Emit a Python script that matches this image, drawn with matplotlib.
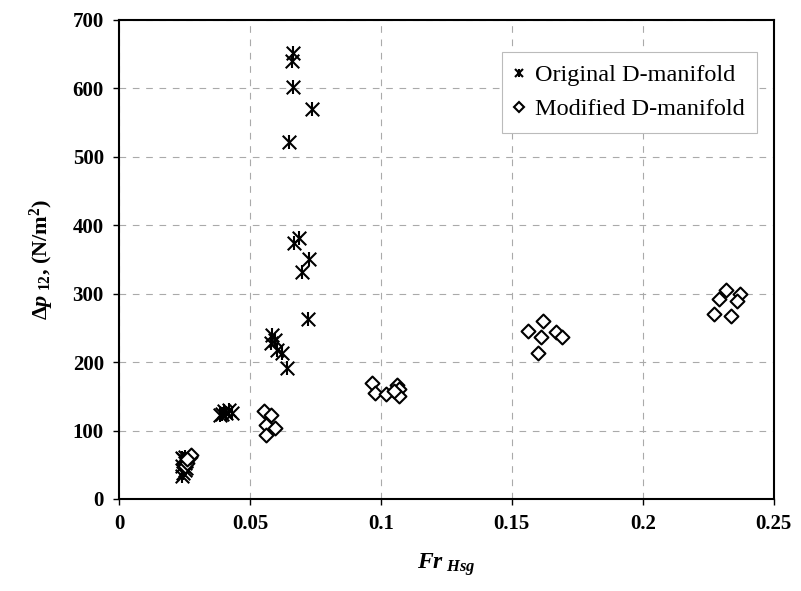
import matplotlib
matplotlib.use("Agg")
import matplotlib.pyplot as plt
from matplotlib.lines import Line2D
from matplotlib.legend_handler import HandlerTuple

plt.rcParams['font.family'] = ['Liberation Serif', 'DejaVu Serif']
plt.rcParams['mathtext.fontset'] = 'custom'
plt.rcParams['mathtext.rm'] = 'Liberation Serif:bold'
plt.rcParams['mathtext.it'] = 'Liberation Serif:italic:bold'
plt.rcParams['mathtext.bf'] = 'Liberation Serif:bold'

# Original D-manifold
orig_x = [0.024, 0.0245, 0.025, 0.0255, 0.024, 0.025, 0.0255, 0.0245, 0.025, 0.024,
          0.0385, 0.040, 0.041, 0.042, 0.043, 0.0395,
          0.0586, 0.058, 0.0595, 0.0605, 0.0624, 0.064,
          0.0665, 0.066, 0.0665, 0.0735, 0.065,
          0.0688, 0.067, 0.0726, 0.070, 0.072]
orig_y = [33, 38, 42, 45, 48, 52, 55, 58, 62, 60,
          122, 128, 125, 130, 126, 124,
          240, 228, 233, 218, 213, 192,
          652, 640, 602, 570, 522,
          381, 374, 351, 332, 263]

# Modified D-manifold
mod_x = [0.025, 0.026, 0.027, 0.0275, 0.026,
         0.0555, 0.058, 0.056, 0.0595, 0.056,
         0.0966, 0.0977, 0.102, 0.106, 0.107, 0.107, 0.105,
         0.162, 0.156, 0.161, 0.160, 0.167, 0.169,
         0.2316, 0.229, 0.237, 0.236, 0.227, 0.2335]
mod_y = [48, 52, 62, 64, 58,
         128, 122, 108, 104, 93,
         170, 155, 154, 167, 161, 151, 158,
         260, 246, 237, 213, 244, 237,
         305, 292, 300, 290, 270, 268]

fig = plt.figure(figsize=(8.01, 5.91), dpi=100)
ax = fig.add_axes([0.1486, 0.1557, 0.8174, 0.8105])

ax.scatter(orig_x, orig_y, marker='x', s=95, color='black', linewidths=1.5, zorder=3)
ax.scatter(orig_x, orig_y, marker='|', s=95, color='black', linewidths=1.5, zorder=3)
ax.scatter(mod_x, mod_y, marker='D', s=50, facecolors='white', edgecolors='black',
           linewidths=1.5, zorder=3)

ax.set_xlim(0, 0.25)
ax.set_ylim(0, 700)
ax.set_xticks([0, 0.05, 0.1, 0.15, 0.2, 0.25])
ax.set_xticklabels(['0', '0.05', '0.1', '0.15', '0.2', '0.25'])
ax.set_yticks(range(0, 701, 100))
ax.grid(True, color='#aaaaaa', linestyle=(0, (6, 6)), linewidth=0.8)
ax.set_axisbelow(True)
for s in ax.spines.values():
    s.set_linewidth(1.5)
ax.tick_params(direction='out', length=4, width=1, labelsize=15, pad=7)
for lab in ax.get_xticklabels() + ax.get_yticklabels():
    lab.set_fontweight('bold')

ax.set_xlabel(r'$Fr_{\ Hsg}$', fontsize=17, labelpad=12)
ax.set_ylabel(r'$\Delta p_{\ 12}$, (N/m$^{2}$)', fontsize=16, fontweight='bold', labelpad=12)

h_orig = (Line2D([], [], marker='x', color='black', linestyle='none', markersize=6, mew=1.5),
          Line2D([], [], marker='|', color='black', linestyle='none', markersize=6, mew=1.5))
h_mod = Line2D([], [], marker='D', color='black', markerfacecolor='white', linestyle='none',
               markersize=5, mew=1.5)
leg = ax.legend([h_orig, h_mod], ['Original D-manifold', 'Modified D-manifold'],
                handler_map={tuple: HandlerTuple(ndivide=1, pad=0)},
                loc='upper right', bbox_to_anchor=(0.974, 0.933), borderaxespad=0,
                fontsize=17.5, fancybox=False, framealpha=1, edgecolor='#bbbbbb',
                handlelength=0.4, handletextpad=0.45, borderpad=0.5, labelspacing=0.5)
leg.get_frame().set_linewidth(0.8)

fig.savefig('out.png', dpi=100)
